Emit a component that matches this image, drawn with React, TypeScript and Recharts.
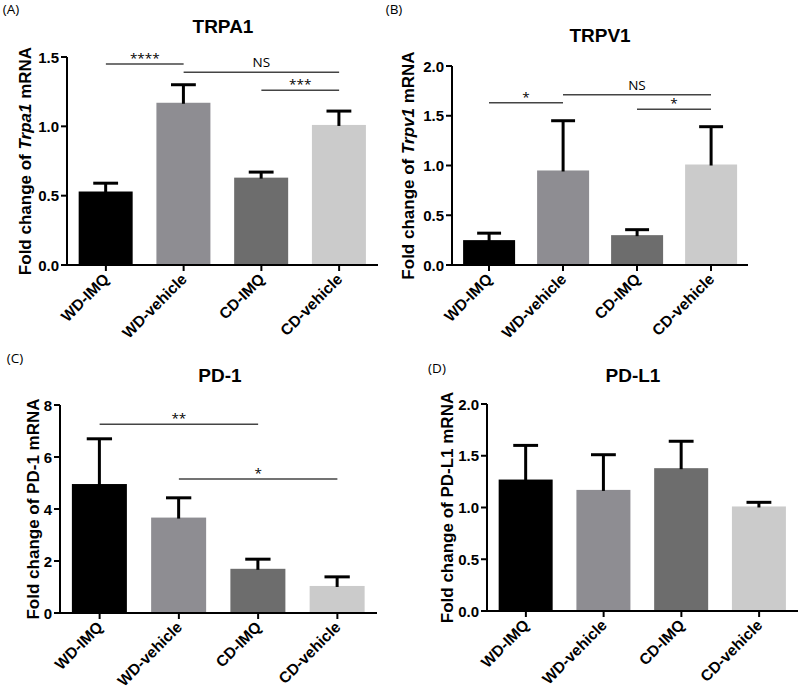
import React from "react";
import { Bar, BarChart, Cell, ReferenceLine, XAxis, YAxis } from "recharts";

const categories = ["WD-IMQ", "WD-vehicle", "CD-IMQ", "CD-vehicle"];
const barColors = ["#000000", "#8e8d92", "#6d6d6d", "#cbcbcb"];

const trpa1Mean = [0.53, 1.17, 0.63, 1.01];
const trpa1Err = [0.06, 0.13, 0.04, 0.1];
const trpv1Mean = [0.25, 0.95, 0.3, 1.01];
const trpv1Err = [0.07, 0.5, 0.055, 0.38];
const pd1Mean = [4.96, 3.67, 1.7, 1.04];
const pd1Err = [1.74, 0.76, 0.37, 0.35];
const pdl1Mean = [1.27, 1.17, 1.38, 1.01];
const pdl1Err = [0.33, 0.34, 0.26, 0.04];

const trpa1Ticks = [0, 0.5, 1, 1.5];
const trpv1Ticks = [0, 0.5, 1, 1.5, 2];
const pd1Ticks = [0, 2, 4, 6, 8];
const pdl1Ticks = [0, 0.5, 1, 1.5, 2];

const trpa1Sig = [
  { from: "WD-IMQ", to: "WD-vehicle", y: 1.45, label: "****" },
  { from: "WD-vehicle", to: "CD-vehicle", y: 1.39, label: "NS" },
  { from: "CD-IMQ", to: "CD-vehicle", y: 1.26, label: "***" },
];
const trpv1Sig = [
  { from: "WD-IMQ", to: "WD-vehicle", y: 1.63, label: "*" },
  { from: "WD-vehicle", to: "CD-vehicle", y: 1.71, label: "NS" },
  { from: "CD-IMQ", to: "CD-vehicle", y: 1.565, label: "*" },
];
const pd1Sig = [
  { from: "WD-IMQ", to: "CD-IMQ", y: 7.26, label: "**" },
  { from: "WD-vehicle", to: "CD-vehicle", y: 5.15, label: "*" },
];

const ARIAL = "'Liberation Sans', Arial, sans-serif";
const CALIBRI = "'Open Sans', 'Noto Sans', sans-serif";

const MeanSemBar = (props: any) => {
  const { x, y, width, height, fill, payload } = props;
  const perUnit = payload.mean ? height / payload.mean : 0;
  const top = y - payload.err * perUnit;
  const cx = x + width / 2;
  const cap = width * 0.23;
  return (
    <g>
      <rect x={x} y={y} width={width} height={height} fill={fill} />
      <line x1={cx} x2={cx} y1={top} y2={y + 1} stroke="#000" strokeWidth={3} />
      <line x1={cx - cap} x2={cx + cap} y1={top} y2={top} stroke="#000" strokeWidth={3} />
    </g>
  );
};

const XTick = (props: any) => {
  const { x, y, payload } = props;
  return (
    <g transform={`translate(${x},${y})`}>
      <text
        x={-2}
        y={8}
        transform="rotate(-45)"
        textAnchor="end"
        fontFamily={ARIAL}
        fontWeight="bold"
        fontSize={15.5}
        fill="#000"
      >
        {payload.value}
      </text>
    </g>
  );
};

const YTick = (props: any) => {
  const { x, y, payload, digits } = props;
  return (
    <text
      x={x}
      y={y}
      textAnchor="end"
      dominantBaseline="central"
      fontFamily={ARIAL}
      fontWeight="bold"
      fontSize={15}
      fill="#000"
    >
      {Number(payload.value).toFixed(digits)}
    </text>
  );
};

const YLabel = (props: any) => {
  const { viewBox, lx, gene, italic } = props;
  const cy = viewBox ? viewBox.y + viewBox.height / 2 : 160;
  return (
    <text
      x={lx}
      y={cy}
      transform={`rotate(-90, ${lx}, ${cy})`}
      textAnchor="middle"
      dominantBaseline="central"
      fontFamily={ARIAL}
      fontWeight="bold"
      fontSize={17}
      fill="#000"
    >
      Fold change of{" "}
      <tspan fontStyle={italic ? "italic" : "normal"}>{gene}</tspan> mRNA
    </text>
  );
};

type Sig = { from: string; to: string; y: number; label: string };

function Panel(props: {
  left: number;
  top: number;
  height: number;
  margin: { top: number; right: number; bottom: number; left: number };
  yWidth: number;
  xHeight: number;
  ticks: number[];
  means: number[];
  errs: number[];
  sig: Sig[];
  lx: number;
  gene: string;
  italic: boolean;
  digits: number;
}) {
  const data = categories.map((c, i) => ({ name: c, mean: props.means[i], err: props.errs[i] }));
  const max = props.ticks[props.ticks.length - 1];
  return (
    <div style={{ position: "absolute", left: props.left, top: props.top }}>
      <BarChart width={400} height={props.height} data={data} margin={props.margin} barCategoryGap="15%">
        <XAxis
          dataKey="name"
          interval={0}
          height={props.xHeight}
          tick={<XTick />}
          axisLine={{ stroke: "#000", strokeWidth: 2 }}
          tickLine={{ stroke: "#000", strokeWidth: 2 }}
        />
        <YAxis
          domain={[0, max]}
          ticks={props.ticks}
          width={props.yWidth}
          tick={<YTick digits={props.digits} />}
          axisLine={{ stroke: "#000", strokeWidth: 2 }}
          tickLine={{ stroke: "#000", strokeWidth: 2 }}
          label={<YLabel lx={props.lx} gene={props.gene} italic={props.italic} />}
        />
        <Bar dataKey="mean" isAnimationActive={false} shape={<MeanSemBar />}>
          {data.map((d, i) => (
            <Cell key={d.name} fill={barColors[i]} />
          ))}
        </Bar>
        {props.sig.map((s) => (
          <ReferenceLine
            key={s.from + s.to}
            segment={[
              { x: s.from, y: s.y },
              { x: s.to, y: s.y },
            ]}
            stroke="#444"
            strokeWidth={1.5}
            ifOverflow="visible"
            label={{
              value: s.label,
              position: "top",
              offset: s.label === "NS" ? 5 : 1,
              fill: "#000",
              fontSize: 13.5,
              fontFamily: CALIBRI,
            }}
          />
        ))}
      </BarChart>
    </div>
  );
}

const titles = [
  { text: "TRPA1", x: 223, y: 26 },
  { text: "TRPV1", x: 600, y: 35 },
  { text: "PD-1", x: 220, y: 375 },
  { text: "PD-L1", x: 633, y: 375 },
];
const letters = [
  { text: "(A)", x: 11, y: 9 },
  { text: "(B)", x: 394, y: 9 },
  { text: "(C)", x: 15, y: 358 },
  { text: "(D)", x: 437, y: 368 },
];

export default function App() {
  return (
    <div style={{ position: "absolute", left: 0, top: 0, width: 800, height: 689, background: "#fff" }}>
      <Panel
        left={0}
        top={0}
        height={345}
        margin={{ top: 57, right: 22, bottom: 0, left: 7 }}
        yWidth={60}
        xHeight={80}
        ticks={trpa1Ticks}
        means={trpa1Mean}
        errs={trpa1Err}
        sig={trpa1Sig}
        lx={25}
        gene="Trpa1"
        italic
        digits={1}
      />
      <Panel
        left={400}
        top={0}
        height={345}
        margin={{ top: 66, right: 52, bottom: 0, left: 0 }}
        yWidth={52}
        xHeight={80}
        ticks={trpv1Ticks}
        means={trpv1Mean}
        errs={trpv1Err}
        sig={trpv1Sig}
        lx={8}
        gene="Trpv1"
        italic
        digits={1}
      />
      <Panel
        left={0}
        top={345}
        height={344}
        margin={{ top: 60, right: 23, bottom: 0, left: 0 }}
        yWidth={60}
        xHeight={76}
        ticks={pd1Ticks}
        means={pd1Mean}
        errs={pd1Err}
        sig={pd1Sig}
        lx={33}
        gene="PD-1"
        italic={false}
        digits={0}
      />
      <Panel
        left={400}
        top={345}
        height={344}
        margin={{ top: 59, right: 2, bottom: 0, left: 27 }}
        yWidth={60}
        xHeight={78}
        ticks={pdl1Ticks}
        means={pdl1Mean}
        errs={pdl1Err}
        sig={[]}
        lx={47}
        gene="PD-L1"
        italic={false}
        digits={1}
      />
      <svg width={800} height={689} style={{ position: "absolute", left: 0, top: 0, pointerEvents: "none" }}>
        {titles.map((t) => (
          <text
            key={t.text}
            x={t.x}
            y={t.y}
            textAnchor="middle"
            dominantBaseline="central"
            fontFamily={ARIAL}
            fontWeight="bold"
            fontSize={19}
            fill="#000"
          >
            {t.text}
          </text>
        ))}
        {letters.map((t) => (
          <text
            key={t.text}
            x={t.x}
            y={t.y}
            textAnchor="middle"
            dominantBaseline="central"
            fontFamily={CALIBRI}
            fontSize={13.5}
            fill="#000"
          >
            {t.text}
          </text>
        ))}
      </svg>
    </div>
  );
}
